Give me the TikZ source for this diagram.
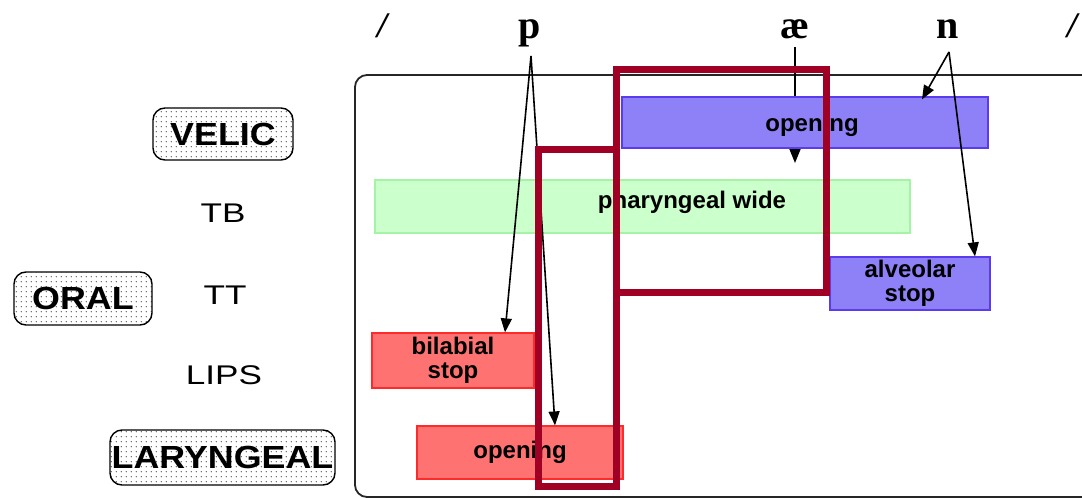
\documentclass[tikz,border=0pt]{standalone}
\usepackage{fontspec}
\setmainfont{Liberation Serif}
\setsansfont{Liberation Sans}
\newfontfamily\tierfont[FakeStretch=1.3]{Liberation Sans}
\newfontfamily\organfont[FakeStretch=1.12]{Liberation Sans}
\usetikzlibrary{arrows.meta,patterns.meta,calc}

\definecolor{velfill}{HTML}{8E80F6}
\definecolor{velline}{HTML}{5A3CEE}
\definecolor{labfill}{HTML}{FF7272}
\definecolor{labline}{HTML}{FF2A2A}
\definecolor{pharfill}{HTML}{CBFFCB}
\definecolor{pharline}{HTML}{A6F2A6}
\definecolor{hilite}{HTML}{A00024}

\tikzdeclarepattern{name=stipple, type=uncolored,
  bounding box={(0pt,0pt) and (5pt,5pt)}, tile size={(5pt,5pt)},
  code={\fill (1.5pt,1.5pt) circle (0.75pt);}}

\tikzset{
  organ/.style={draw, line width=1.4pt, rounded corners=12pt, inner sep=0pt,
    pattern=stipple, pattern color=black!75,
    font=\organfont\bfseries\fontsize{32}{32}\selectfont},
  tier/.style={inner sep=0pt, font=\tierfont\fontsize{27}{27}\selectfont},
  gesture/.style={line width=1.2pt, inner sep=0pt, align=center,
    font=\sffamily\bfseries\fontsize{24}{24}\selectfont},
  segment/.style={inner sep=0pt, anchor=base,
    font=\bfseries\fontsize{40}{40}\selectfont},
  slash/.style={inner sep=0pt, anchor=base,
    font=\bfseries\itshape\fontsize{36}{36}\selectfont},
  arr/.style={line width=1.6pt, -{Triangle[length=14pt,width=11pt]}},
  hibox/.style={draw=hilite, line width=7pt},
}

\begin{document}
\begin{tikzpicture}[x=1pt,y=-1pt]
\useasboundingbox (0,0) rectangle (1082,498);
\clip (0,0) rectangle (1082,498);

% transcription along the top
\node[slash] (slashL) at (382,37) {/};
\node[segment] (pSym) at (530,38) {p};
\node[segment] (aeSym) at (795,38) {æ};
\node[segment] (nSym) at (948,38) {n};
\node[slash] (slashR) at (1072,37) {/};

% gestural score frame
\draw[line width=1.8pt, black!85, rounded corners=12pt] (1100,75) -- (355,75) -- (355,497) -- (1100,497);

% organ and tier labels
\node[organ, minimum width=140, minimum height=52] (velic) at (223,134) {VELIC};
\node[organ, minimum width=138, minimum height=53] (oral) at (83,298.5) {ORAL};
\node[organ, minimum width=225, minimum height=55] (laryngeal) at (222.5,457.5) {LARYNGEAL};
\node[tier] (tb) at (223,213) {TB};
\node[tier] (tt) at (225,295) {TT};
\node[tier] (lips) at (224,375) {LIPS};

% association lines from the segments
\coordinate (pFoot) at (531,56);
\coordinate (aeFoot) at (795,47);
\coordinate (nFoot) at (949,52);

\node[gesture, minimum width=162, minimum height=55, fill=labfill, draw=labline] (bilStop) at (453,360.5) {bilabial\\stop};
\node[gesture, minimum width=206, minimum height=53, fill=labfill, draw=labline] (larOpen) at (520,452.5) {opening};
\node[gesture, minimum width=535, minimum height=53, fill=pharfill, draw=pharline] (pharWide) at (642.5,206.5) {};
\node[gesture] at (692,202) {pharyngeal wide};

\draw[arr] (pFoot) -- ([xshift=52]bilStop.north);
\draw[arr] (pFoot) -- ([xshift=35]larOpen.north);
\draw[arr] (aeFoot) -- (795,163);

\node[gesture, minimum width=366, minimum height=51, fill=velfill, draw=velline] (velOpen) at (805,122.5) {};
\node[gesture] at (812,125) {opening};
\node[gesture, minimum width=160, minimum height=53, fill=velfill, draw=velline] (alvStop) at (910,283.5) {alveolar\\stop};

\draw[arr] (nFoot) -- ([xshift=117,yshift=-3]velOpen.north);
\draw[arr] (nFoot) -- ([xshift=65]alvStop.north);

% highlighted regions
\draw[hibox] (616.5,69.5) rectangle (826.5,292.5);
\draw[hibox] (538.5,149.5) rectangle (616.5,486.5);
\end{tikzpicture}
\end{document}
